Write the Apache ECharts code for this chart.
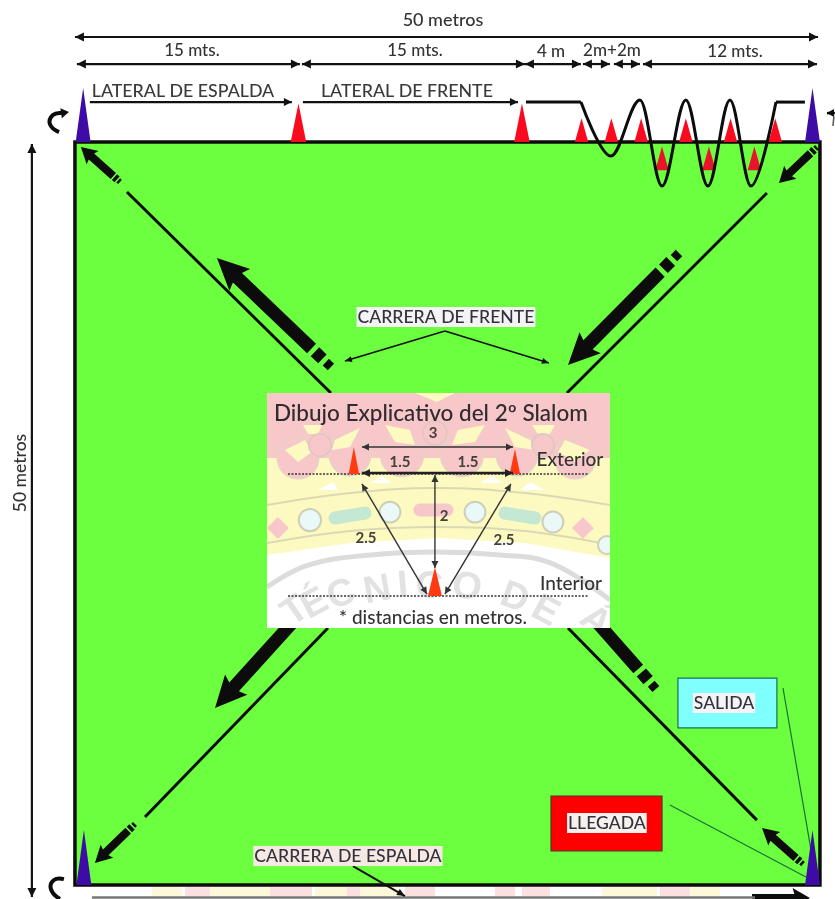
<!DOCTYPE html>
<html><head><meta charset="utf-8">
<style>html,body{margin:0;padding:0;background:#fff}#c{width:835px;height:899px}</style>
<script src="https://cdn.jsdelivr.net/npm/echarts@6/dist/echarts.min.js"></script>
</head><body><div id="c"></div>
<script>
// All positions are metres on the 50 x 50 m course plan (origin: top-left corner of the field).
const planX = [-5.03, 51.01];
const planY = [-9.56, 50.94];
const field = [[0,0],[50,0],[50,50],[0,50]];
const tallConeStations = [15, 30];
const lowConeStations = [34, 36, 38, 41, 44, 47];
const innerConeStations = [39.4, 42.55, 45.6];
const cornerCones = [[0.55,0,-3.63],[49.5,0,-3.63],[0.6,50,46.3],[49.5,50,46.3]];

const spanTotal = [[0,-7.07,49.87,-7.07]];
const spanSegments = [[0.13,15.1],[15.23,30.2],[30.2,33.96],[34.09,35.9],[36.17,37.92],[38.12,49.8]];
const spanRowY = -5.25;
const spanSide = [[-2.89,0.13,-2.89,50.81]];
const lateralArrows = [[1.0,-2.69,14.56,-2.69],[15.3,-2.69,29.73,-2.69]];

const slalomIn = [[30.27,-2.69],[33.96,-2.69]];
const slalomWave = [[33.96,-2.69],[35.97,0.94],[37.92,-2.83],[39.4,2.96],[41.0,-2.83],[42.48,2.96],[43.96,-2.83],[45.37,2.96],[47.05,-2.69]];
const slalomOut = [[47.05,-2.69],[48.99,-2.69]];

const diagonals = [[3.49,3.36,17.18,16.89],[46.44,3.43,33.02,16.89],[4.7,45.42,16.98,32.7],[33.09,32.7,45.77,45.63]];
const bigRunArrows = [[9.53,7.81,17.18,15.14],[33.09,15.01,40.54,7.47],[9.4,38.09,16.51,30.21],[32.01,28.87,38.99,36.81]];
const smallRunArrows = [[0.4,0.34,3.02,2.69],[47.25,2.76,49.8,0.34],[1.34,48.52,4.03,45.89],[46.11,46.16,48.86,48.59]];
const bottomRun = [[49.33,50.87,45.44,50.87]];
const bottomLine = [[1.14,50.84],[45.64,50.84]];
const frenteLeaders = [[24.83,12.72,18.12,14.74],[24.83,12.72,31.81,14.87]];
const espaldaLeader = [[18.66,48.72,22.15,50.74]];
const turnLeft = [[-1.07,-0.67],[-1.68,-1.21],[-1.48,-1.82],[-0.87,-1.95],[-0.4,-2.02]];
const turnBottom = [[-0.74,49.6],[-1.41,49.66],[-1.61,50.27],[-1.01,50.94]];
const turnRight = [[50.47,-1.95],[51.0,-1.95]];
const turnRightLeg = [[50.94,-1.75],[50.87,-1.08]];

const salidaBox = [40.47,36.07,47.11,39.43];
const llegadaBox = [31.95,44.01,39.4,47.71];
const startLeaders = [[47.52,36.74,49.4,47.64],[39.93,44.62,49.06,49.46]];

const insetBox = [12.89,16.89,35.91,32.7];
const insetCones = [[18.72,22.34,20.52],[29.53,22.34,20.66],[24.16,30.55,28.6]];
const insetDotted = [[14.3,22.34,34.43,22.34],[14.3,30.55,34.43,30.55]];
const insetThinSpans = [[19.26,20.52,29.4,20.52],[24.16,22.41,24.16,28.67],[19.26,23.01,23.62,30.42],[29.26,23.01,24.83,30.42]];
const insetThickSpans = [[19.26,22.27,29.4,22.27]];

// faint crest printed behind the plan
const crestPink = [[12.89,16.89],[35.91,16.89],[35.91,21.26],[12.89,21.26]];
const crestCream = [[12.89,21.26],[35.91,21.26],[35.91,27.99],[30.2,26.99],[24.3,26.65],[18.46,26.99],[12.89,27.79]];
const crestArcs = [
 [[12.89,24.43],[18.46,23.62],[24.3,23.28],[30.2,23.62],[35.91,24.43]],
 [[12.89,26.99],[18.46,26.18],[24.3,25.91],[30.2,26.18],[35.91,27.12]]];
const crestWideArc = [[12.89,29.95],[15.64,28.47],[19.8,27.79],[24.3,27.59],[28.52,27.79],[31.95,28.33],[35.91,30.82]];
const crestLobes = [[18.46,21.06,1.4],[21.95,21.06,1.45],[25.97,21.06,1.45],[29.66,21.06,1.4],[33.56,21.26,1.4],[14.97,21.26,1.4]];
const crestPetals = [
 [[14.09,20.73],[15.44,20.05],[15.91,20.86],[14.97,21.53]],
 [[17.45,20.05],[19.13,19.25],[18.46,20.52],[17.25,20.73]],
 [[15.3,19.04],[16.58,19.04],[16.31,19.65],[15.64,19.65]],
 [[20.81,19.04],[22.48,19.38],[22.82,20.39],[21.48,20.19]],
 [[25.3,20.39],[25.7,19.38],[27.52,19.04],[26.85,20.19]],
 [[28.86,19.25],[30.54,20.05],[30.87,20.73],[29.53,20.52]],
 [[32.42,20.86],[32.89,20.05],[34.56,20.73],[33.56,21.53]],
 [[30.67,19.04],[32.21,19.04],[31.88,19.65],[31.07,19.65]],
 [[22.82,16.89],[25.5,16.89],[24.3,17.5]]];
const crestFlowers = [[16.44,20.39,0.75],[24.16,19.58,0.8],[31.41,20.39,0.75]];
const crestRings = [[15.77,25.44,0.75],[21.14,24.9,0.7],[26.85,24.9,0.7],[32.08,25.57,0.7],[35.7,27.12,0.6]];
const crestOvalsGreen = [[17.45,25.3,19.46,24.97],[28.86,24.97,30.87,25.3]];
const crestOvalsPink = [[23.15,24.76,24.97,24.76]];
const crestDiamonds = [
 [[13.62,25.24],[14.36,25.98],[13.62,26.72],[12.89,25.98]],
 [[34.09,25.24],[34.83,25.98],[34.09,26.72],[33.36,25.98]]];
const crestNotches = [
 [[16.31,23.42],[17.32,22.88],[17.65,23.42]],
 [[29.87,23.42],[30.54,22.88],[31.54,23.42]],
 [[19.8,22.95],[20.6,22.48],[21.28,22.95]],
 [[27.18,22.95],[27.99,22.48],[28.72,22.95]]];
const crestLetters = [['T',14.8,31.6,35],['É',16.1,31.1,28],['C',17.9,30.5,20],['N',20.3,30.2,10],['I',22.0,29.9,5],['C',23.8,30.0,0],['O',26.3,30.0,-8],['D',29.5,30.7,-20],['E',31.55,31.6,-28],['Á',34.9,32.3,-38]];
const stripCream = [[5.17,7.18],[9.06,13.09],[16.1,18.25],[19.13,21.81],[35.37,39.06],[41.27,43.29]];
const stripPink = [[7.38,9.06],[13.09,15.91],[18.25,19.13],[22.15,24.16],[28.19,29.53],[30.0,31.88],[39.26,41.27]];
const stripY = [50.13,50.74];

const topTexts = [['15 mts.',7.85,-6.19],['15 mts.',22.82,-6.19],['4 m',31.95,-6.06],['2m+2m',36.04,-6.19],['12 mts.',44.3,-6.12]];
const totalText = ['50 metros',24.7,-8.21];
const lateralTexts = [['LATERAL DE ESPALDA',7.25,-3.43],['LATERAL DE FRENTE',22.28,-3.43]];
const sideText = ['50 metros',-3.69,22.27];
const patchTexts = [['CARRERA DE FRENTE',24.9,11.78],['CARRERA DE ESPALDA',18.32,48.05],['SALIDA',43.56,37.75],['LLEGADA',35.7,45.83]];
const insetTitle = ['Dibujo Explicativo del 2º Slalom',23.89,18.3];
const insetNumbers = [['3',24.03,19.58],['1.5',21.81,21.53],['1.5',26.38,21.53],['2',24.77,25.17],['2.5',19.53,26.65],['2.5',28.79,26.78]];
const insetWords = [['Exterior',33.22,21.4],['Interior',33.29,29.74],['* distancias en metros.',24.03,32.03]];

const INK = '#0c0c0c', GREEN = '#6BFF40', FONT = 'Lato, "Noto Sans", sans-serif';

function poly(api, pts, fill, extra) {
  return Object.assign({type:'polygon', shape:{points:pts.map(p=>api.coord(p))}, style:{fill:fill}}, extra||{});
}
function stroke(api, pts, color, w, opt) {
  opt = opt||{};
  return {type:'polyline', shape:{points:pts.map(p=>api.coord(p)), smooth:opt.smooth||0},
    style:{fill:null, stroke:color, lineWidth:w, lineCap:opt.cap||'butt', lineDash:opt.dash||null}};
}
function head(tip, from, len, half, color) {
  const dx=tip[0]-from[0], dy=tip[1]-from[1], d=Math.hypot(dx,dy)||1, ux=dx/d, uy=dy/d;
  const bx=tip[0]-ux*len, by=tip[1]-uy*len;
  return {type:'polygon', shape:{points:[tip,[bx-uy*half,by+ux*half],[bx+uy*half,by-ux*half]]}, style:{fill:color}};
}
function span(api, s, o) {
  const a=api.coord([s[0],s[1]]), b=api.coord([s[2],s[3]]);
  const out=[{type:'line', shape:{x1:a[0],y1:a[1],x2:b[0],y2:b[1]}, style:{stroke:o.color,lineWidth:o.w}}];
  if(o.end) out.push(head(b,a,o.len,o.half,o.color));
  if(o.start) out.push(head(a,b,o.len,o.half,o.color));
  return out;
}
function runArrow(api, s, o) {
  const t=api.coord([s[0],s[1]]), e=api.coord([s[2],s[3]]);
  const dx=e[0]-t[0], dy=e[1]-t[1], L=Math.hypot(dx,dy), ux=dx/L, uy=dy/L, nx=-uy, ny=ux;
  const at=(f,w)=>[t[0]+ux*L*f+nx*w, t[1]+uy*L*f+ny*w];
  const q=(f1,f2,w)=>({type:'polygon',shape:{points:[at(f1,w),at(f2,w),at(f2,-w),at(f1,-w)]},style:{fill:INK}});
  const out=[
    {type:'polygon',shape:{points:[at(0,0),at(o.head,o.hw),at(o.head*0.9,o.sw),at(o.shaft,o.sw),at(o.shaft,-o.sw),at(o.head*0.9,-o.sw),at(o.head,-o.hw)]},style:{fill:INK}}];
  if(o.blocks){ out.push(q(0.86,0.925,o.sw*0.95)); out.push(q(0.955,1,o.sw*0.7)); }
  return out;
}
function txt(api, t, o) {
  const c=api.coord([t[1],t[2]]);
  return {type:'text', x:c[0], y:c[1], rotation:(t[3]||0)*Math.PI/180,
    style:Object.assign({text:t[0], x:0, y:0, align:'center', verticalAlign:'middle', font:o.font, fill:o.fill},
      o.bg?{backgroundColor:o.bg,padding:o.pad||[1,1]}:{})};
}
function disc(api, c, fill, line, lw) {
  const p=api.coord([c[0],c[1]]), r=api.size([c[2],0])[0];
  return {type:'circle', shape:{cx:p[0],cy:p[1],r:r}, style:{fill:fill,stroke:line,lineWidth:lw||0}};
}
function cone(api, x, base, apex, half, fill) {
  return poly(api,[[x-half,base],[x,apex],[x+half,base]],fill);
}
function band(rect){const [a,b,c,d]=rect;return [[a,b],[c,b],[c,d],[a,d]];}

function layer(z, build){
  return {type:'custom', coordinateSystem:'cartesian2d', clip:false, silent:true, z:z,
    encode:{x:0,y:1}, data:[[0,0]],
    renderItem:function(p,api){ return {type:'group', children:build(api)}; }};
}
const dimO={color:'#111',w:2.2,len:9,half:4.5,start:true,end:true};

const series=[
 layer(1,api=>[
   ...stripCream.map(s=>poly(api,band([s[0],stripY[0],s[1],stripY[1]]),'#FDF8DA')),
   ...stripPink.map(s=>poly(api,band([s[0],stripY[0],s[1],stripY[1]]),'#FBE0E0')),
   {type:'polygon',shape:{points:field.map(p=>api.coord(p))},style:{fill:GREEN,stroke:INK,lineWidth:3.5}}
 ]),
 layer(2,api=>[
   ...diagonals.map(d=>stroke(api,[[d[0],d[1]],[d[2],d[3]]],INK,3)),
   ...bigRunArrows.flatMap(a=>runArrow(api,a,{head:0.2,hw:15,sw:6.5,shaft:0.83,blocks:true})),
   ...smallRunArrows.flatMap(a=>runArrow(api,a,{head:0.3,hw:9,sw:4,shaft:0.83,blocks:true})),
   ...bottomRun.flatMap(a=>runArrow(api,a,{head:0.3,hw:10,sw:4,shaft:1,blocks:false})),
   stroke(api,bottomLine,'#777',2.5),
   ...startLeaders.map(d=>stroke(api,[[d[0],d[1]],[d[2],d[3]]],'#1d6f36',1.2)),
   ...tallConeStations.map(x=>cone(api,x,0,-2.6,0.52,'#FA0A1E')),
   ...lowConeStations.map(x=>cone(api,x,0,-1.6,0.45,'#FA0A1E')),
   ...innerConeStations.map(x=>cone(api,x,1.9,0.3,0.45,'#E9142A')),
   ...cornerCones.map(c=>cone(api,c[0],c[1],c[2],0.5,'#3F0BA6')),
   ...spanTotal.flatMap(s=>span(api,s,dimO)),
   ...spanSegments.flatMap(s=>span(api,[s[0],spanRowY,s[1],spanRowY],dimO)),
   ...spanSide.flatMap(s=>span(api,s,dimO)),
   ...lateralArrows.flatMap(s=>span(api,s,{color:'#111',w:2.2,len:8,half:4,end:true})),
   ...frenteLeaders.flatMap(s=>span(api,s,{color:'#111',w:1.6,len:7,half:3,end:true})),
   ...espaldaLeader.flatMap(s=>span(api,s,{color:'#111',w:2,len:8,half:3.5,end:true})),
   stroke(api,turnLeft.slice(0,4),INK,4,{smooth:0.5}),
   head(api.coord(turnLeft[4]),api.coord(turnLeft[3]),8,5,INK),
   stroke(api,turnBottom,INK,4,{smooth:0.5}),
   ...span(api,[turnRight[1][0],turnRight[1][1],turnRight[0][0],turnRight[0][1]],{color:INK,w:2.5,len:7,half:4,end:true}),
   stroke(api,turnRightLeg,'#555',1.5),
   poly(api,band(salidaBox),'#80FFFF',{style:{fill:'#80FFFF',stroke:'#1d6f55',lineWidth:1.2}}),
   poly(api,band(llegadaBox),'#FF0000',{style:{fill:'#FF0000',stroke:'#4a3a1a',lineWidth:1.2}})
 ]),
 {type:'line', z:3, silent:true, symbol:'none', data:slalomIn, lineStyle:{color:INK,width:3}, clip:false},
 {type:'line', z:3, silent:true, symbol:'none', data:slalomWave, smooth:0.35, smoothMonotone:'x', lineStyle:{color:INK,width:3}, clip:false},
 {type:'line', z:3, silent:true, symbol:'none', data:slalomOut, lineStyle:{color:INK,width:3}, clip:false},
 layer(4,api=>{
   const tl=api.coord([insetBox[0],insetBox[1]]), br=api.coord([insetBox[2],insetBox[3]]);
   return [{type:'group',
     clipPath:{type:'rect',shape:{x:tl[0],y:tl[1],width:br[0]-tl[0],height:br[1]-tl[1]}},
     children:[
       poly(api,band(insetBox),'#FFFFFF'),
       stroke(api,crestWideArc,'#DCDCDC',5,{smooth:0.4}),
       ...crestLetters.map(l=>txt(api,l,{font:'700 38px "Liberation Sans", sans-serif',fill:'#E2E2E2'})),
       poly(api,crestCream,'#FCFAC0'),
       poly(api,crestPink,'#F8C7C9'),
       ...crestLobes.map(c=>disc(api,c,'#F8C7C9','#E3D6C4',1.2)),
       ...crestNotches.map(n=>poly(api,n,'#FFFFFF')),
       ...crestPetals.map(n=>poly(api,n,'#FCFAC0')),
       ...crestFlowers.map(c=>disc(api,c,'#F8C7C9','#DCC8C0',1.5)),
       ...crestArcs.map(a=>stroke(api,a,'#DAD9B4',2,{smooth:0.4})),
       ...crestRings.map(c=>disc(api,c,'#EAF8F8','#CFCFB8',2)),
       ...crestOvalsGreen.map(o=>stroke(api,[[o[0],o[1]],[o[2],o[3]]],'#C4E8D2',13,{cap:'round'})),
       ...crestOvalsPink.map(o=>stroke(api,[[o[0],o[1]],[o[2],o[3]]],'#F8C7C9',13,{cap:'round'})),
       ...crestDiamonds.map(n=>poly(api,n,'#F8C7C9'))
     ]}];
 }),
 layer(5,api=>[
   ...insetDotted.map(d=>stroke(api,[[d[0],d[1]],[d[2],d[3]]],'#333',1.3,{dash:[2,1.5]})),
   ...insetCones.map((c,i)=>cone(api,c[0],c[1],c[2],i===2?0.47:0.35,'#FF3A10')),
   ...insetThinSpans.flatMap(s=>span(api,s,{color:'#333',w:1.4,len:7,half:3.5,start:true,end:true})),
   ...insetThickSpans.flatMap(s=>span(api,s,{color:'#222',w:2.4,len:8,half:4,start:true,end:true}))
 ]),
 layer(6,api=>[
   txt(api,totalText,{font:'500 18px '+FONT,fill:'#333'}),
   ...topTexts.map(t=>txt(api,t,{font:'500 17px '+FONT,fill:'#333'})),
   ...lateralTexts.map(t=>txt(api,t,{font:'500 17.8px '+FONT,fill:'#3a3a3a'})),
   txt(api,[sideText[0],sideText[1],sideText[2],90],{font:'500 17.5px '+FONT,fill:'#333'}),
   ...patchTexts.map((t,i)=>txt(api,t,{font:'500 17.6px '+FONT,fill:'#33323c',bg:i===1?'#F6E9E4':(i===3?'#F7F1EE':'#F4F4F6')})),
   txt(api,insetTitle,{font:'500 22.5px '+FONT,fill:'#2f2b30'}),
   ...insetNumbers.map(t=>txt(api,t,{font:'700 15px '+FONT,fill:'#44403c'})),
   ...insetWords.map(t=>txt(api,t,{font:'500 19px '+FONT,fill:'#333'}))
 ])
];

const chart=echarts.init(document.getElementById('c'),null,{renderer:'canvas'});
chart.setOption({
  animation:false, backgroundColor:'#fff', tooltip:{show:false},
  grid:{left:0,right:0,top:0,bottom:0},
  xAxis:{type:'value',min:planX[0],max:planX[1],show:false,scale:true},
  yAxis:{type:'value',min:planY[0],max:planY[1],inverse:true,show:false,scale:true},
  series:series
});
</script></body></html>
